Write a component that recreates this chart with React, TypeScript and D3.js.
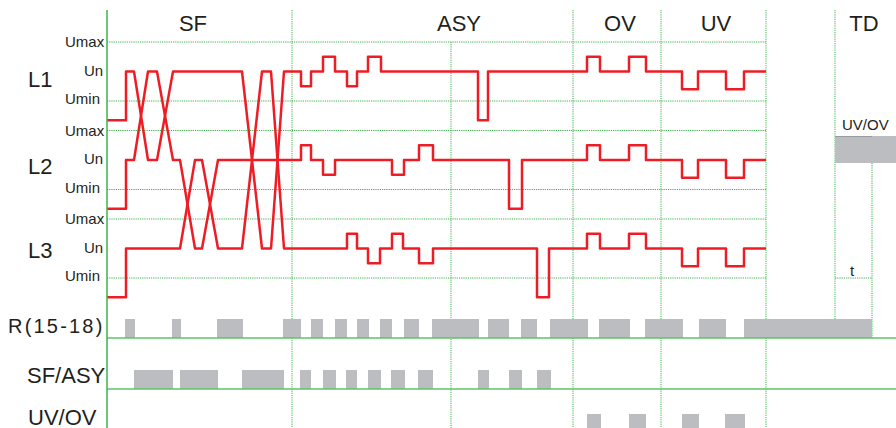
import * as React from "react"
import * as d3 from "d3"

// time axis: ms from the left edge of the diagram
const sectionLabels = [
  { name: "SF", t: 86 },
  { name: "ASY", t: 352 },
  { name: "OV", t: 513 },
  { name: "UV", t: 609 },
  { name: "TD", t: 757 },
]

const phases = ["L1", "L2", "L3"]
const U_MAX = 1.2
const U_N = 1.0
const U_MIN = 0.8
const U_LOW = 0.67
const END_T = 659

// start of the supply: all phases step up to Un
const stepUpT = 19

// SF phase swaps: [leave, arrive, stay until, back, phaseA, phaseB]
const swaps = [
  [27, 41, 50, 66, 0, 1],
  [73, 88, 95, 111, 1, 2],
  [135, 155, 164, 177, 0, 2],
]

// pulses around Un: [start, end, voltage]
const ovUvPulses = [
  [480, 493, 1.1],
  [522, 539, 1.1],
  [575, 591, 0.88],
  [619, 637, 0.88],
]
const l1Pulses = [
  [194, 204, 0.9],
  [216, 228, 1.1],
  [240, 250, 0.9],
  [261, 274, 1.1],
  [371, 381, 0.67],
  ...ovUvPulses,
]
const l2Pulses = [
  [194, 204, 1.1],
  [216, 228, 0.9],
  [285, 297, 0.9],
  [312, 326, 1.1],
  [402, 415, 0.67],
  ...ovUvPulses,
]
const l3Pulses = [
  [240, 250, 1.1],
  [261, 273, 0.9],
  [285, 296, 1.1],
  [312, 326, 0.9],
  [430, 442, 0.67],
  ...ovUvPulses,
]
const pulses = [l1Pulses, l2Pulses, l3Pulses]

// output rows
const outputRows = ["R(15-18)", "SF/ASY", "UV/OV"]
const rBars = [
  [18, 28], [65, 74], [110, 136], [176, 194], [204, 216], [228, 240],
  [250, 262], [273, 285], [297, 312], [325, 372], [381, 402], [414, 430],
  [443, 481], [492, 523], [538, 576], [592, 619], [637, 765],
]
const sfAsyBars = [
  [27, 66], [73, 111], [135, 177], [193, 204], [216, 229], [239, 250],
  [261, 274], [284, 298], [311, 326], [371, 382], [402, 415], [430, 444],
]
const uvOvBars = [
  [480, 494], [522, 539], [575, 592], [618, 638],
]
const outputBars = [rBars, sfAsyBars, uvOvBars]

// vertical grid lines
const fullLines = [185, 466, 554, 659]
const midLine = 344
const tdStart = 728
const tdEnd = 765

const red = "#ee1d25"
const green = "#3cb44b"
const gray = "#bcbdc0"
const ink = "#231f20"

function level(p: number, v: number) {
  return p * 0.6 + (U_MAX - v)
}

function buildTrace(p: number) {
  const pts: [number, number, number][] = [
    [0, p, U_LOW],
    [stepUpT, p, U_LOW],
    [stepUpT, p, U_N],
  ]
  swaps.forEach(([a, b, c, d, pa, pb]) => {
    if (p !== pa && p !== pb) return
    const other = p === pa ? pb : pa
    pts.push([a, p, U_N], [b, other, U_N], [c, other, U_N], [d, p, U_N])
  })
  pulses[p].forEach(([t0, t1, v]) => {
    pts.push([t0, p, U_N], [t0, p, v], [t1, p, v], [t1, p, U_N])
  })
  pts.push([END_T, p, U_N])
  return pts
}

export default function App() {
  const width = 896
  const height = 428

  const x = d3.scaleLinear().domain([0, 789]).range([107, 896])
  const y = d3.scaleLinear().domain([0, 1.8]).range([42, 307.5])
  const rowY = d3.scaleOrdinal<string, number>().domain(outputRows).range([338, 389, 433])
  const barH = 19

  const line = d3
    .line<[number, number, number]>()
    .x((d) => x(d[0]))
    .y((d) => y(level(d[1], d[2])))

  const font = "Liberation Sans, Arial, sans-serif"
  const dot = "1.2 1"

  return (
    <div>
      <style>{`body{margin:0}`}</style>
      <svg width={width} height={height} style={{ display: "block", fontFamily: font }}>
        <rect width={width} height={height} fill="white" />

        {/* horizontal dotted level lines */}
        {phases.map((ph, p) =>
          [U_MAX, U_MIN].map((v) => (
            <line
              key={ph + v}
              x1={x(0)}
              x2={x(END_T)}
              y1={y(level(p, v))}
              y2={y(level(p, v))}
              stroke={green}
              strokeWidth={1}
              strokeDasharray={dot}
            />
          ))
        )}
        <line x1={x(tdStart)} x2={x(tdEnd)} y1={y(level(2, U_MIN))} y2={y(level(2, U_MIN))}
          stroke={green} strokeWidth={1} strokeDasharray={dot} />

        {/* vertical dotted lines */}
        {fullLines.map((t) => (
          <line key={t} x1={x(t)} x2={x(t)} y1={10} y2={height}
            stroke={green} strokeWidth={1} strokeDasharray={dot} />
        ))}
        <line x1={x(midLine)} x2={x(midLine)} y1={y(level(0, U_MAX))} y2={height}
          stroke={green} strokeWidth={1} strokeDasharray={dot} />
        <line x1={x(tdStart)} x2={x(tdStart)} y1={10} y2={rowY("R(15-18)")}
          stroke={green} strokeWidth={1} strokeDasharray={dot} />
        <line x1={x(tdEnd)} x2={x(tdEnd)} y1={163} y2={rowY("R(15-18)")}
          stroke={green} strokeWidth={1} strokeDasharray={dot} />

        {/* TD box */}
        <rect x={x(tdStart)} y={136} width={width - x(tdStart)} height={27} fill={gray} />
        <line x1={x(tdStart)} x2={x(tdEnd)} y1={136.5} y2={136.5} stroke="#999a9e" strokeWidth={1} />
        <text x={842} y={130} fontSize={15} fill={ink}>UV/OV</text>
        <text x={852} y={276} fontSize={15} fill={ink} textAnchor="middle">t</text>

        {/* output rows */}
        {outputRows.map((row, i) => (
          <g key={row}>
            {outputBars[i].map(([t0, t1]) => (
              <rect
                key={t0}
                x={x(t0)}
                y={rowY(row) - barH}
                width={x(t1) - x(t0)}
                height={barH}
                fill={gray}
              />
            ))}
            <line x1={x(0)} x2={width} y1={rowY(row)} y2={rowY(row)} stroke="#5cc56a" strokeWidth={1.5} />
          </g>
        ))}

        {/* phase traces */}
        {phases.map((ph, p) => (
          <path
            key={ph}
            d={line(buildTrace(p)) ?? ""}
            fill="none"
            stroke={red}
            strokeWidth={2.5}
            strokeLinejoin="round"
          />
        ))}

        {/* left axis */}
        <line x1={x(0)} x2={x(0)} y1={10} y2={height} stroke={green} strokeWidth={1.5} />

        {/* section titles */}
        {sectionLabels.map((s) => (
          <text key={s.name} x={x(s.t)} y={31} fontSize={22} textAnchor="middle" fill={ink}>
            {s.name}
          </text>
        ))}

        {/* phase labels and level labels */}
        {phases.map((ph, p) => (
          <g key={ph} fill={ink}>
            <text x={28} y={[87, 174, 258][p]} fontSize={22}>{ph}</text>
            <text x={65} y={y(level(p, U_MAX)) + 5} fontSize={15}>Umax</text>
            <text x={84} y={y(level(p, U_N)) + 4} fontSize={15}>Un</text>
            <text x={65} y={y(level(p, U_MIN)) + 3} fontSize={15}>Umin</text>
          </g>
        ))}

        {/* output labels */}
        <text x={8} y={333} fontSize={20} letterSpacing={2.2} fill={ink}>R(15-18)</text>
        <text x={27} y={383} fontSize={22} fill={ink}>SF/ASY</text>
        <text x={28} y={425} fontSize={22} fill={ink}>UV/OV</text>
      </svg>
    </div>
  )
}
